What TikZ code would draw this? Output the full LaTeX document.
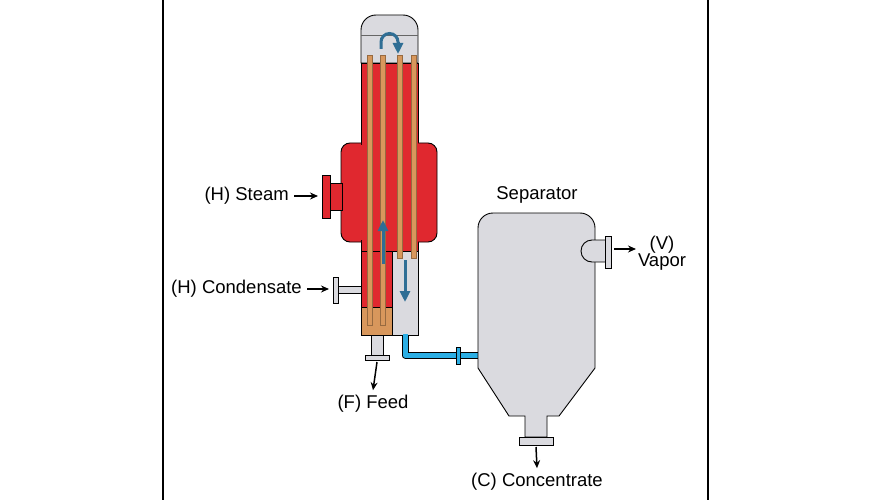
\documentclass[tikz,border=0pt]{standalone}
\usepackage{fontspec}
\setmainfont{Liberation Sans}
\usetikzlibrary{arrows.meta,positioning}
\definecolor{steamred}{HTML}{E0282F}
\definecolor{tubetan}{HTML}{D8975C}
\definecolor{shellgrey}{HTML}{DADADF}
\definecolor{pipeblue}{HTML}{2BAEE4}
\definecolor{flowblue}{HTML}{2F6E95}
\tikzset{
  lbl/.style={font=\fontsize{18.5}{20}\selectfont, inner sep=1pt},
  flow/.style={-{Stealth[length=8pt,width=7pt]}, line width=1.5pt},
  blueflow/.style={flowblue, line width=3pt, -{Triangle[length=11pt,width=10pt]}},
  part/.style={draw=black, line width=0.9pt},
  tube/.style={fill=tubetan, draw=tubetan!70!black, line width=0.3pt}
}
\begin{document}
\begin{tikzpicture}[x=1pt,y=-1pt]
    \useasboundingbox (0,0) rectangle (870,500);
    \draw[line width=2pt] (163,0) -- (163,500);
    \draw[line width=2pt] (708,0) -- (708,500);
    % evaporator body
    \draw[part, fill=shellgrey] (361,63) -- (361,30) arc[start angle=180, end angle=270, radius=15] -- (403,15) arc[start angle=270, end angle=360, radius=15] -- (418,63) -- cycle;
    \draw[black!60, line width=0.5pt] (361,35) -- (418,35);
    \draw[part, fill=steamred] (361,63) rectangle (418,251);
    \draw[part, fill=steamred] (361,251) rectangle (392,307);
    \draw[part, fill=steamred, rounded corners=9pt] (361,143) -- (341,143) -- (341,242) -- (361,242);
    \draw[part, fill=steamred, rounded corners=9pt] (418,143) -- (437,143) -- (437,242) -- (418,242);
    \fill[steamred] (358,145) rectangle (421,240);
    \draw[part, fill=tubetan] (361,307) rectangle (392,335);
    \draw[part, fill=shellgrey] (392,251) rectangle (418,335);
    % tubes
    \foreach \tx in {367,380} \draw[tube] (\tx,55) rectangle ++(5,270);
    \foreach \tx in {397,411} \draw[tube] (\tx,55) rectangle ++(5,203);
    % steam nozzle
    \draw[part, fill=steamred] (330,183) rectangle (342,210);
    \draw[part, fill=steamred] (322,175) rectangle (330,218);
    % condensate nozzle
    \draw[part, fill=shellgrey] (338,286) rectangle (361,293);
    \draw[part, fill=shellgrey] (333,277) rectangle (338,303);
    % feed nozzle
    \draw[part, fill=shellgrey] (371,335) rectangle (383,355);
    \draw[part, fill=shellgrey] (365,355) rectangle (389,360);
    % inner flow
    \draw[flowblue, line width=3pt] (381,49) -- (381,42) arc[start angle=180, end angle=360, radius=8.5] -- (398,43);
    \draw[blueflow] (398,42) -- (398,54);
    \draw[blueflow] (383,264) -- (383,220);
    \draw[blueflow] (405,260) -- (405,302);
    % transfer pipe
    \draw[black, line width=7pt, line join=round] (405,335) -- (405,355) -- (478,355);
    \draw[pipeblue, line width=5pt, line join=round] (405,334) -- (405,355) -- (479,355);
    \draw[part, fill=pipeblue] (456,347) rectangle (460,364);
    % separator
    \draw[part, fill=shellgrey] (478,368) -- (478,228) arc[start angle=180, end angle=270, radius=15] -- (580,213) arc[start angle=270, end angle=360, radius=15] -- (595,368) -- (559,416) -- (547,416) -- (547,437) -- (525,437) -- (525,416) -- (509,416) -- cycle;
    \draw[part, fill=shellgrey] (519,437) rectangle (553,445);
    \draw[part, fill=shellgrey] (605,240) -- (592,240) arc[start angle=270, end angle=90, radius=11] -- (605,262);
    \draw[part, fill=shellgrey] (605,236) rectangle (611,268);
    % labels
    \node[lbl, anchor=east] (steam) at (290,196) {(H) Steam};
    \node[lbl, anchor=east] (cond) at (303,289) {(H) Condensate};
    \node[lbl] (feed) at (373,404) {(F) Feed};
    \node[lbl] (sep) at (537,195) {Separator};
    \node[lbl, align=center] (vapor) at (662,253) {(V)\\[-3pt]Vapor};
    \node[lbl] (conc) at (537,482) {(C) Concentrate};
    \coordinate (steamin) at (318,196);
    \coordinate (condin) at (329,289);
    \coordinate (feedtop) at (377,362);
    \coordinate (vapout) at (614,249);
    \coordinate (conctop) at (536,447);
    \draw[flow] (steam.east) ++(4,0) -- (steamin);
    \draw[flow] (cond.east) ++(4,0) -- (condin);
    \draw[flow] (feedtop) -- ([yshift=4pt]feed.north);
    \draw[flow] (vapout) -- (636,249);
    \draw[flow] (conctop) -- ([yshift=4pt]conc.north);
\end{tikzpicture}
\end{document}
